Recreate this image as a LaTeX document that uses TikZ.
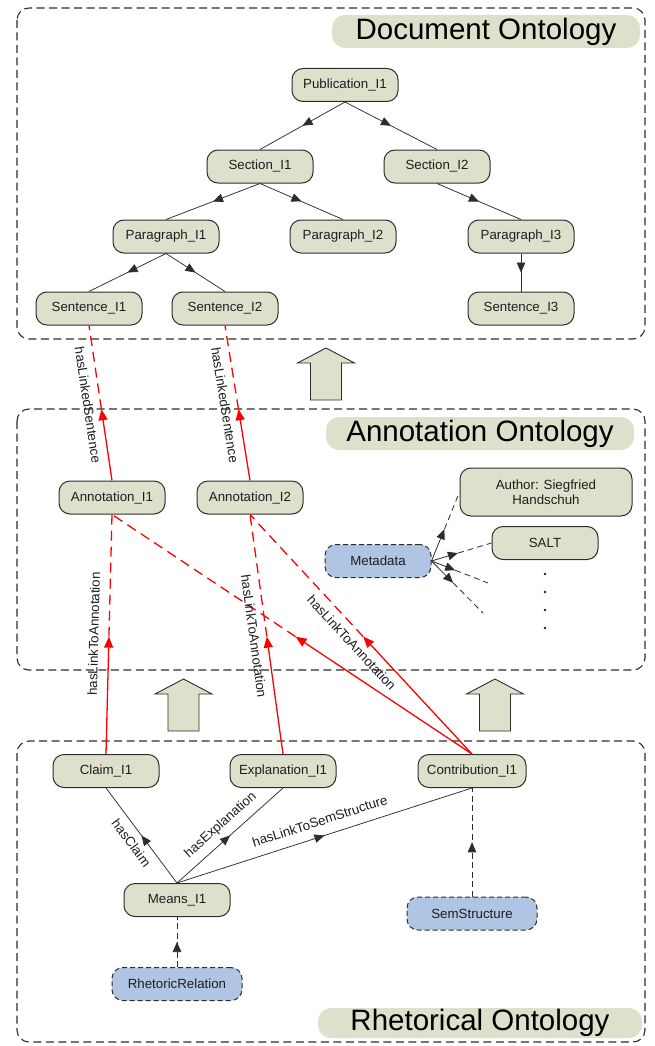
\documentclass[tikz,border=0pt]{standalone}
\usepackage{fontspec}
\setmainfont{Liberation Sans}
\usetikzlibrary{arrows.meta,decorations.markings}
\definecolor{nodeolive}{RGB}{221,225,203}
\definecolor{nodeblue}{RGB}{176,196,228}
\definecolor{edgegray}{RGB}{45,45,45}
\definecolor{txtgray}{RGB}{30,30,30}
\begin{document}
\begin{tikzpicture}[x=1pt,y=-1pt,
  font=\fontsize{13.3}{15.5}\selectfont,
  onode/.style={draw=edgegray, line width=1pt, fill=nodeolive, rounded corners=11pt,
    minimum width=106pt, minimum height=33pt, inner sep=2pt, text=txtgray},
  bnode/.style={onode, fill=nodeblue, dash pattern=on 5pt off 3pt},
  panel/.style={draw=edgegray, line width=1.1pt, dash pattern=on 8pt off 4.5pt, rounded corners=12pt},
  titlebox/.style={fill=nodeolive, rounded corners=13pt, inner sep=0pt, text=black,
    font=\fontsize{29.5}{32}\selectfont},
  blockarrow/.style={draw=edgegray, line width=0.9pt, fill=nodeolive, line join=miter},
  tedge/.style={color=edgegray, line width=0.75pt, postaction={decorate},
    decoration={markings, mark=at position 0.5 with {\arrow{Triangle[length=10pt,width=8.5pt]}}}},
  dedge/.style={tedge, dash pattern=on 6pt off 3.5pt},
  rsolid/.style={color=red, line width=1.3pt, -{Triangle[length=11pt,width=9pt]}},
  rdash/.style={color=red, line width=1.3pt, dash pattern=on 10pt off 6pt},
  msolid/.style={color=edgegray, line width=0.8pt, -{Triangle[length=10pt,width=8.5pt]}},
  mdash/.style={color=edgegray, line width=0.8pt, dash pattern=on 6pt off 4pt},
  lbl/.style={text=txtgray, inner sep=1.5pt, text height=9.7pt, text depth=2.8pt},
  dotnode/.style={circle, fill=txtgray, inner sep=0pt, minimum size=2.8pt},
  uparrow/.pic={\draw[blockarrow] (-15.5,52) -- (-15.5,15) -- (-28.5,15) -- (0,0) -- (28.5,15) -- (15.5,15) -- (15.5,52) -- cycle;}
]
\useasboundingbox (0,0) rectangle (654,1046);

% panels
\draw[panel] (17,8) rectangle (645,339);
\draw[panel] (17,409) rectangle (645,670);
\draw[panel] (17,741) rectangle (645,1042);

% titles
\node[titlebox, minimum width=308pt, minimum height=33pt] (tdoc) at (486,31.5) {Document Ontology};
\node[titlebox, minimum width=308pt, minimum height=33pt] (tann) at (480,433.5) {Annotation Ontology};
\node[titlebox, minimum width=324pt, minimum height=30pt] (trhe) at (480,1023) {Rhetorical Ontology};

% block arrows
\pic (ba1) at (326,348) {uparrow};
\pic (ba2) at (183.5,679) {uparrow};
\pic (ba3) at (495,679) {uparrow};

% document ontology
\node[onode] (pub)  at (345,85)  {Publication\_I1};
\node[onode] (sec1) at (260,166.5) {Section\_I1};
\node[onode] (sec2) at (437,166.5) {Section\_I2};
\node[onode] (par1) at (166,236.5) {Paragraph\_I1};
\node[onode] (par2) at (343,236.5) {Paragraph\_I2};
\node[onode] (par3) at (521,236.5) {Paragraph\_I3};
\node[onode] (sen1) at (89,308.5)  {Sentence\_I1};
\node[onode] (sen2) at (225,308.5) {Sentence\_I2};
\node[onode] (sen3) at (521,308.5) {Sentence\_I3};

\draw[tedge] (pub.south) -- (sec1.north);
\draw[tedge] (pub.south) -- (sec2.north);
\draw[tedge] (sec1.south) -- (par1.north);
\draw[tedge] (sec1.south) -- (par2.north);
\draw[tedge] (sec2.south) -- (par3.north);
\draw[tedge] (par1.south) -- (sen1.north);
\draw[tedge] (par1.south) -- (sen2.north);
\draw[tedge] (par3.south) -- (sen3.north);

% annotation ontology
\node[onode] (ann1) at (112,497.5) {Annotation\_I1};
\node[onode] (ann2) at (250,497.5) {Annotation\_I2};
\node[onode, minimum width=172pt, minimum height=48pt, align=center] (author) at (546,492) {Author: Siegfried\\Handschuh};
\node[onode] (salt) at (545,543) {SALT};
\node[bnode] (meta) at (378,561) {Metadata};
\node[dotnode] (d1) at (545,574) {};
\node[dotnode] (d2) at (545,592) {};
\node[dotnode] (d3) at (545,610) {};
\node[dotnode] (d4) at (545,628) {};
\coordinate (m3) at (488,583);
\coordinate (m4) at (483,613);

\path (meta.east) -- coordinate[pos=0.46] (mk1) (author.west);
\path (meta.east) -- coordinate[pos=0.44] (mk2) (salt.west);
\path (meta.east) -- coordinate[pos=0.42] (mk3) (m3);
\path (meta.east) -- coordinate[pos=0.42] (mk4) (m4);
\draw[msolid] (meta.east) -- (mk1); \draw[mdash] (mk1) -- (author.west);
\draw[msolid] (meta.east) -- (mk2); \draw[mdash] (mk2) -- (salt.west);
\draw[msolid] (meta.east) -- (mk3); \draw[mdash] (mk3) -- (m3);
\draw[msolid] (meta.east) -- (mk4); \draw[mdash] (mk4) -- (m4);

% rhetorical ontology
\node[onode] (claim) at (106,771) {Claim\_I1};
\node[onode] (expl)  at (283,771) {Explanation\_I1};
\node[onode, minimum width=108pt] (contr) at (472,771) {Contribution\_I1};
\node[onode] (means) at (177,900) {Means\_I1};
\node[bnode, minimum width=130pt] (rr)  at (177,984) {RhetoricRelation};
\node[bnode, minimum width=130pt] (sem) at (472,913.5) {SemStructure};

\draw[tedge] (means.north) -- (claim.south);
\draw[tedge] (means.north) -- (expl.south);
\draw[tedge] (means.north) -- (contr.south);
\draw[dedge] (rr.north) -- (means.south);
\draw[dedge] (sem.north) -- (contr.south);

\path (claim.south) -- (means.north) node[lbl, pos=0.5, sloped, below=6pt] (lclaim) {hasClaim};
\path (means.north) -- (expl.south) node[lbl, pos=0.5, sloped, above=6pt] (lexpl) {hasExplanation};
\path (means.north) -- (contr.south) node[lbl, pos=0.5, sloped, above=6pt] (lsem) {hasLinkToSemStructure};

% red links: annotation -> sentence
\path (ann1.north) -- coordinate[pos=0.46] (r1) (sen1.south);
\draw[rsolid] (ann1.north) -- (r1); \draw[rdash] (r1) -- (sen1.south);
\path (ann2.north) -- coordinate[pos=0.46] (r2) (sen2.south);
\draw[rsolid] (ann2.north) -- (r2); \draw[rdash] (r2) -- (sen2.south);
\path (sen1.south) -- (ann1.north) node[lbl, pos=0.5, sloped, below=6pt] (ls1) {hasLinkedSentence};
\path (sen2.south) -- (ann2.north) node[lbl, pos=0.5, sloped, below=6pt] (ls2) {hasLinkedSentence};

% red links: rhetorical -> annotation
\path (claim.north) -- coordinate[pos=0.49] (r3) (ann1.south);
\draw[rsolid] (claim.north) -- (r3); \draw[rdash] (r3) -- (ann1.south);
\path (expl.north) -- coordinate[pos=0.49] (r4) (ann2.south);
\draw[rsolid] (expl.north) -- (r4); \draw[rdash] (r4) -- (ann2.south);
\path (contr.north) -- coordinate[pos=0.49] (r5) (ann1.south);
\draw[rsolid] (contr.north) -- (r5); \draw[rdash] (r5) -- (ann1.south);
\path (contr.north) -- coordinate[pos=0.49] (r6) (ann2.south);
\draw[rsolid] (contr.north) -- (r6); \draw[rdash] (r6) -- (ann2.south);

\path (claim.north) -- (ann1.south) node[lbl, pos=0.5, sloped, above=6pt] (la1) {hasLinkToAnnotation};
\path (ann2.south) -- (expl.north) node[lbl, pos=0.5, sloped, below=6pt] (la2) {hasLinkToAnnotation};
\path (ann2.south) -- (contr.north) node[lbl, pos=0.5, sloped, below=6pt] (la3) {hasLinkToAnnotation};
\end{tikzpicture}
\end{document}
